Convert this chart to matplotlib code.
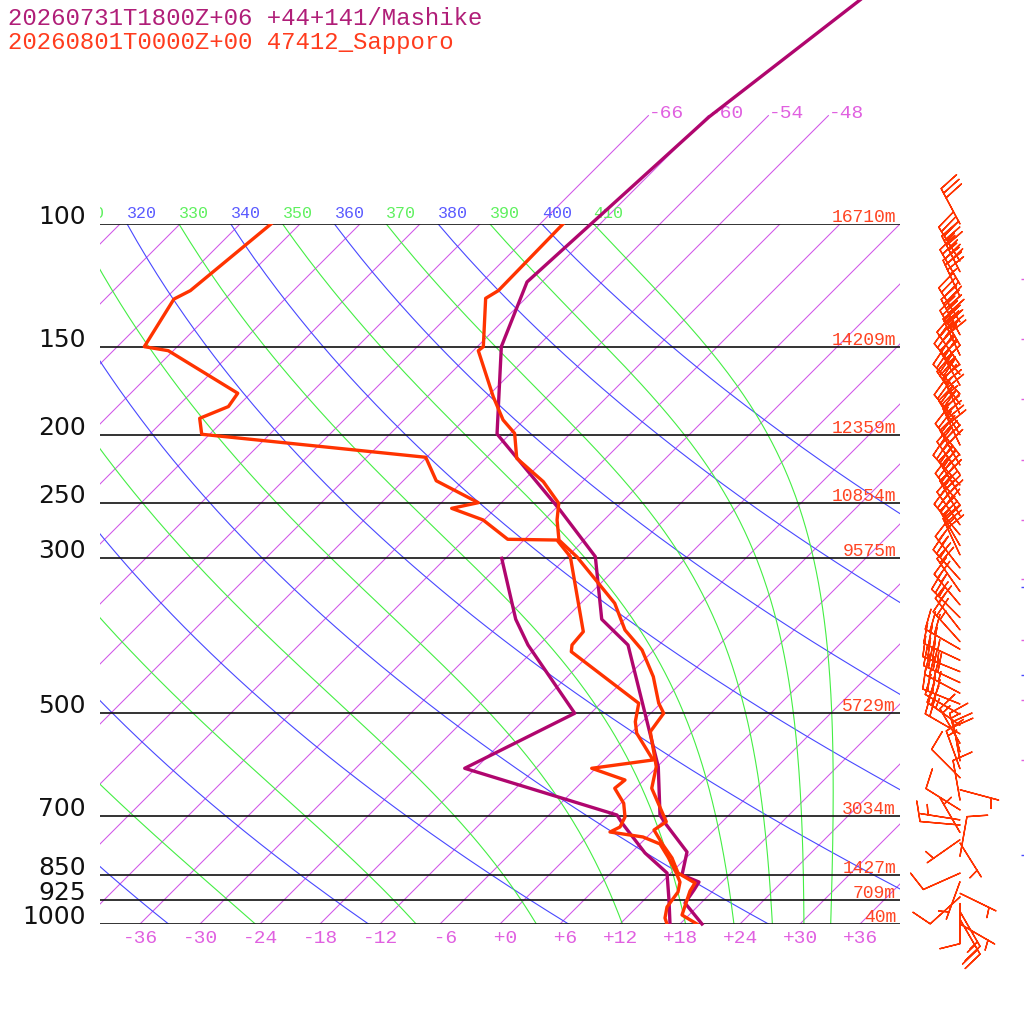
import numpy as np
import matplotlib
matplotlib.use('Agg')
import matplotlib.pyplot as plt
from matplotlib import transforms as mtransforms

# ---- sounding data ----
# Sapporo (47412) observed temperature
sap_t_p = [100, 124.5, 127.7, 149.7, 151.7, 176.5, 190.5, 199.1, 216.1, 233.4, 250.6, 264.7,
           282.8, 299.0, 348.2, 380.2, 406.0, 443.3, 483.8, 500.0, 531.2, 596.1, 639.9, 714.3,
           734.0, 771.1, 804.8, 845.5, 873.8, 897.1, 933.3, 970.8, 1000]
sap_t = [-63.7, -63.5, -64.0, -59.4, -59.5, -53.4, -50.1, -47.6, -44.9, -39.9, -36.2, -34.7,
         -32.5, -29.0, -20.6, -16.9, -13.2, -9.4, -6.2, -4.7, -4.2, -0.1, 1.6, 6.4,
         6.0, 8.4, 10.6, 12.7, 15.4, 15.7, 16.5, 17.3, 19.7]

# Sapporo dew point
sap_td_p = [100, 124.5, 128.0, 149.7, 151.7, 174.5, 182.3, 189.5, 199.7, 215.4, 232.7, 250.1,
            254.8, 264.7, 282.1, 282.8, 298.7, 382.3, 399.4, 408.3, 483.8, 514.0, 534.0, 583.0,
            599.2, 622.7, 639.9, 672.3, 703.3, 726.8, 738.9, 751.1, 768.6, 802.2, 837.3, 871.0,
            900.1, 945.6, 980.5, 1000]
sap_td = [-92.9, -94.3, -95.1, -93.3, -90.5, -79.3, -78.9, -80.6, -78.8, -54.1, -50.7, -44.3,
          -46.4, -42.1, -37.7, -32.7, -29.7, -20.9, -20.7, -20.1, -8.2, -6.7, -5.4, -1.1,
          -6.4, -1.9, -2.1, 0.3, 1.8, 2.3, 1.8, 5.6, 8.0, 10.1, 12.1, 13.8,
          14.6, 15.0, 15.9, 16.7]

# Mashike forecast temperature / dew point
mas_t_p = [47.85, 70.3, 121.0, 149.7, 199.5, 256.2, 298.7, 367.0, 399.4, 596.1, 698.7, 717.3,
           789.1, 851.1, 871.0, 894.2, 933.3, 1000]
mas_t = [-56.4, -59.8, -61.5, -57.6, -49.3, -35.4, -27.2, -20.3, -15.1, 0.1, 5.1, 6.4,
         11.5, 13.3, 15.7, 16.0, 16.4, 20.2]
mas_td_p = [300.3, 367.0, 399.4, 500.0, 599.2, 698.7, 717.3, 791.7, 845.5, 924.1, 1000]
mas_td = [-36.4, -28.9, -25.1, -13.6, -19.1, 0.8, 2.1, 7.4, 11.6, 14.5, 17.0]

# standard levels and heights
std_p = [100, 150, 200, 250, 300, 500, 700, 850, 925, 1000]
std_hgt = ['16710m', '14209m', '12359m', '10854m', '9575m', '5729m', '3034m', '1427m', '709m', '40m']

# Sapporo winds: pressure, direction (deg), speed
wind_p = [100, 113, 117, 122, 127, 138, 144, 149, 154, 159, 164, 170, 175, 181, 187, 194, 200,
          207, 214, 221, 228, 236, 244, 252, 261, 269, 278, 288, 297, 310, 322, 335, 350, 365,
          380, 395, 405, 420, 436, 452, 468, 485, 502, 520, 535, 552, 568, 585, 600, 618, 643,
          665, 687, 710, 722, 740, 758, 766, 800, 846, 870, 904, 915, 935, 960, 985, 1000]
wind_dir = [332, 328, 333, 330, 335, 328, 332, 330, 335, 325, 320, 330, 318, 325, 335, 320, 328,
            335, 322, 330, 325, 318, 328, 322, 330, 325, 320, 330, 335, 322, 318, 325, 320, 315,
            322, 318, 300, 295, 292, 295, 298, 292, 300, 305, 300, 330, 345, 350, 340, 315, 105,
            350, 302, 279, 275, 330, 235, 148, 10, 246, 200, 116, 228, 180, 150, 150, 120]
wind_spd = [30, 35, 35, 40, 35, 40, 45, 45, 40, 35, 40, 35, 40, 35, 35, 40, 35,
            40, 35, 40, 35, 40, 40, 35, 40, 40, 35, 35, 30, 25, 25, 20, 25, 25,
            20, 25, 30, 35, 35, 40, 35, 30, 30, 25, 20, 15, 15, 20, 15, 10, 5,
            10, 10, 5, 10, 5, 5, 5, 10, 10, 5, 5, 10, 10, 15, 25, 5]

# Mashike wind marks just visible at the right edge
mas_mark_p = [120, 146, 178, 217, 265, 322, 393, 479, 583]
blue_mark_p = [330, 441, 797]

# background line sets
isotherms = np.arange(-108, 37, 6)
isotherm_top = [-66, -60, -54, -48]
dry_thetas = np.arange(240, 401, 20)
moist_thetas = np.arange(250, 411, 20)

SKEW = 30.4          # deg C per ln(1000/p)
KAPPA = 0.2854
Rd, cp, Lv, eps = 287.04, 1005.7, 2.501e6, 0.622

C_MAS = '#b0066e'
C_SAP = '#ff3300'
C_ISO = '#d055e8'
C_ISO_TXT = '#e060e0'
C_DRY = '#4848ff'
C_MOIST = '#44ee44'


def skew_x(t, p):
    return np.asarray(t, float) + SKEW * np.log(1000.0 / np.asarray(p, float))


def sat_vp(tk):
    return 6.112 * np.exp(17.67 * (tk - 273.15) / (tk - 29.65))


def moist_lapse(tk, p):
    es = sat_vp(tk)
    rs = eps * es / (p - es)
    return (Rd * tk + Lv * rs) / (cp + Lv * Lv * rs * eps / (Rd * tk * tk)) / p


def moist_adiabat(theta, plev):
    tk = theta * (plev[0] / 1000.0) ** KAPPA
    out = [tk]
    for p0, p1 in zip(plev[:-1], plev[1:]):
        dp = p1 - p0
        k1 = moist_lapse(tk, p0)
        k2 = moist_lapse(tk + 0.5 * dp * k1, p0 + 0.5 * dp)
        k3 = moist_lapse(tk + 0.5 * dp * k2, p0 + 0.5 * dp)
        k4 = moist_lapse(tk + dp * k3, p1)
        tk = tk + dp * (k1 + 2 * k2 + 2 * k3 + k4) / 6.0
        out.append(tk)
    return np.array(out) - 273.15


fig = plt.figure(figsize=(10.24, 10.24), dpi=100, facecolor='white')
ax = fig.add_axes([100 / 1024, 100 / 1024, 800 / 1024, 700 / 1024])
ax.set_yscale('log')
ax.set_ylim(1000, 100)
ax.set_xlim(-40, 40)
ax.set_axis_off()


def offset(trans, dx=0, dy=0):
    return mtransforms.offset_copy(trans, fig=fig, x=dx, y=dy, units='dots')


clipbox = mtransforms.TransformedBbox(mtransforms.Bbox([[0, 0], [1, 3]]), ax.transAxes)
mono = 'Liberation Mono'

# isotherms
for t in isotherms:
    ax.plot(skew_x([t, t], [1000, 100]), [1000, 100], color=C_ISO, lw=0.75, zorder=1)
for t in isotherm_top:
    ax.plot(skew_x([t, t], [100, 70]), [100, 70], color=C_ISO, lw=0.75, zorder=1, clip_on=False)
    ax.text(skew_x(t, 70), 70, str(int(t)), transform=offset(ax.transData, 0, -2),
            ha='left', va='baseline', family=mono, fontsize=14, color=C_ISO_TXT)
for t in isotherms[isotherms >= -36]:
    ax.text(t, 0, format(int(t), '+3d'), transform=offset(ax.get_xaxis_transform(), 0, -19),
            ha='center', va='baseline', family=mono, fontsize=14, color=C_ISO_TXT)

# dry adiabats
plev = np.linspace(100, 1000, 300)
for th in dry_thetas:
    tc = th * (plev / 1000.0) ** KAPPA - 273.15
    ax.plot(skew_x(tc, plev), plev, color=C_DRY, lw=0.8, zorder=1)
    t100 = th * 0.1 ** KAPPA - 273.15
    txt = ax.text(skew_x(t100, 100), 100, str(th), transform=offset(ax.transData, 0, 6),
                  ha='left', va='baseline', family=mono, fontsize=12, color='#5a5aff')
    txt.set_clip_box(clipbox)
    txt.set_clip_on(True)

# moist adiabats
for th in moist_thetas:
    tc = moist_adiabat(th, plev)
    ax.plot(skew_x(tc, plev), plev, color=C_MOIST, lw=0.8, zorder=1)
    t100 = th * 0.1 ** KAPPA - 273.15
    txt = ax.text(skew_x(t100, 100), 100, str(th), transform=offset(ax.transData, 0, 6),
                  ha='left', va='baseline', family=mono, fontsize=12, color='#5ef05e')
    txt.set_clip_box(clipbox)
    txt.set_clip_on(True)

# isobars, pressure and height labels
for p, h in zip(std_p, std_hgt):
    ax.axhline(p, color='#111111', lw=1.2, zorder=2)
    ax.text(0, p, str(p), transform=offset(ax.get_yaxis_transform(), -14, 0),
            ha='right', va='baseline', fontsize=18, color='#111111', family='DejaVu Sans')
    ax.text(1, p, h, transform=offset(ax.get_yaxis_transform(), -4, 2),
            ha='right', va='baseline', family=mono, fontsize=13, color='#ff4422')

# profiles
ax.plot(skew_x(mas_td, mas_td_p), mas_td_p, color=C_MAS, lw=2.4, zorder=4)
ax.plot(skew_x(mas_t, mas_t_p), mas_t_p, color=C_MAS, lw=2.4, zorder=4, clip_on=False)
ax.plot(skew_x(sap_td, sap_td_p), sap_td_p, color=C_SAP, lw=2.4, zorder=5)
ax.plot(skew_x(sap_t, sap_t_p), sap_t_p, color=C_SAP, lw=2.4, zorder=5)

# wind barbs
axw = fig.add_axes([900 / 1024, 100 / 1024, 124 / 1024, 700 / 1024])
axw.set_yscale('log')
axw.set_ylim(1000, 100)
axw.set_xlim(0, 124)
axw.set_axis_off()
wd = np.radians(wind_dir)
ws = np.asarray(wind_spd, float)
u = -ws * np.sin(wd)
v = -ws * np.cos(wd)
axw.barbs(np.full(len(wind_p), 60.0), wind_p, u, v, length=7.6, color=C_SAP,
          linewidth=1.0, clip_on=False,
          sizes=dict(height=0.5, spacing=0.13, width=0.25))
axw.plot(np.full(len(mas_mark_p), 122.5), mas_mark_p, ls='none', marker='_', ms=3,
         color=C_ISO_TXT, clip_on=False)
axw.plot(np.full(len(blue_mark_p), 122.5), blue_mark_p, ls='none', marker='_', ms=3,
         color=C_DRY, clip_on=False)

# header
fig.text(8 / 1024, 1 - 25 / 1024, '20260731T1800Z+06 +44+141/Mashike', family=mono,
         fontsize=17.3, color='#b01e78', va='baseline', ha='left')
fig.text(8 / 1024, 1 - 49 / 1024, '20260801T0000Z+00 47412_Sapporo', family=mono,
         fontsize=17.3, color='#ff3c1e', va='baseline', ha='left')

fig.savefig('out.png', dpi=100, facecolor='white')
